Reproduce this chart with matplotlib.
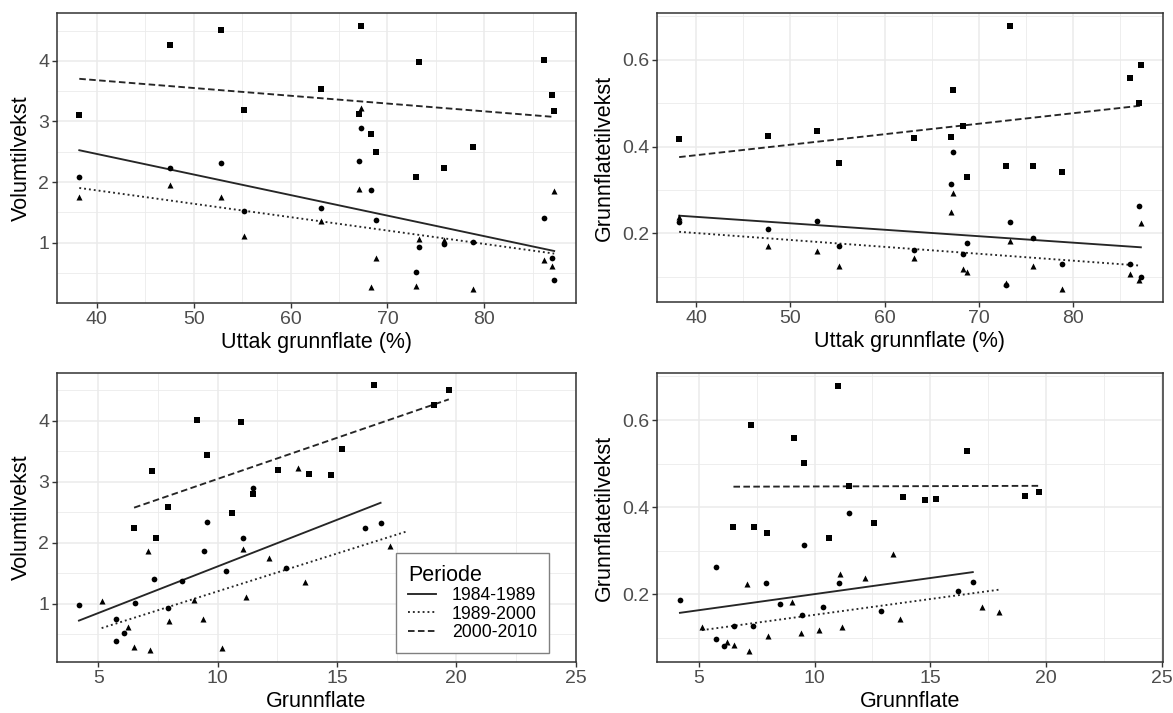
import numpy as np
import matplotlib.pyplot as plt
from matplotlib.lines import Line2D

plt.rcParams['font.family'] = ['Liberation Sans', 'DejaVu Sans']

# one value per bestand, same order in every list
uttak = [38.2, 47.6, 52.8, 55.2, 63.1, 67.1, 67.3, 68.3, 68.8, 72.9, 73.3, 75.8, 78.8, 86.1, 87.0, 87.2]

# 1984-1989
grunnflate_8489 = [11.05, 16.18, 16.83, 10.35, 12.86, 9.54, 11.47, 9.44, 8.50, 6.08, 7.91, 4.19, 6.52, 7.33, 5.74, 5.75]
volum_8489 = [2.08, 2.24, 2.32, 1.53, 1.58, 2.34, 2.89, 1.87, 1.37, 0.52, 0.92, 0.97, 1.01, 1.40, 0.75, 0.38]
gftilvekst_8489 = [0.226, 0.209, 0.228, 0.171, 0.161, 0.314, 0.387, 0.152, 0.177, 0.081, 0.226, 0.188, 0.128, 0.128, 0.262, 0.098]

# 1989-2000
grunnflate_8900 = [12.16, 17.22, 17.97, 11.20, 13.67, 11.08, 13.38, 10.19, 9.40, 6.51, 9.02, 5.14, 7.17, 7.98, 6.23, 7.09]
volum_8900 = [1.75, 1.95, 1.76, 1.11, 1.35, 1.89, 3.23, 0.27, 0.74, 0.29, 1.06, 1.04, 0.24, 0.71, 0.62, 1.86]
gftilvekst_8900 = [0.238, 0.171, 0.160, 0.125, 0.144, 0.248, 0.292, 0.118, 0.111, 0.085, 0.183, 0.125, 0.071, 0.105, 0.092, 0.223]

# 2000-2010
grunnflate_0010 = [14.77, 19.09, 19.69, 12.55, 15.23, 13.81, 16.57, 11.47, 10.61, 7.40, 11.00, 6.50, 7.93, 9.13, 9.54, 7.25]
volum_0010 = [3.11, 4.26, 4.51, 3.19, 3.54, 3.12, 4.58, 2.80, 2.49, 2.08, 3.98, 2.24, 2.58, 4.02, 3.44, 3.18]
gftilvekst_0010 = [0.417, 0.425, 0.435, 0.363, 0.420, 0.423, 0.530, 0.448, 0.329, 0.354, 0.679, 0.355, 0.341, 0.559, 0.501, 0.589]

perioder = ['1984-1989', '1989-2000', '2000-2010']
grunnflate = [grunnflate_8489, grunnflate_8900, grunnflate_0010]
volum = [volum_8489, volum_8900, volum_0010]
gftilvekst = [gftilvekst_8489, gftilvekst_8900, gftilvekst_0010]

markers = ['o', '^', 's']
msizes = [17, 19, 15]
dashes = [(None, None), (1.0, 1.6), (3.5, 1.8)]
line_col = '#262626'

W, H = 1173, 713
fig = plt.figure(figsize=(W / 100, H / 100), dpi=100)
fig.patch.set_facecolor('white')


def add_ax(x0, y0, x1, y1):
    return fig.add_axes([x0 / W, 1 - y1 / H, (x1 - x0) / W, (y1 - y0) / H])


def style(ax, xlim, ylim, xt, xm, yt, ym, ytl, xlabel, ylabel):
    ax.set_xlim(xlim)
    ax.set_ylim(ylim)
    ax.set_xticks(xt)
    ax.set_xticks(xm, minor=True)
    ax.set_yticks(yt)
    ax.set_yticklabels(ytl)
    ax.set_yticks(ym, minor=True)
    ax.grid(which='major', color='#ebebeb', lw=1.1)
    ax.grid(which='minor', color='#ebebeb', lw=0.6)
    ax.set_axisbelow(True)
    for s in ax.spines.values():
        s.set_color('#333333')
        s.set_linewidth(1.1)
    ax.tick_params(which='major', length=3.5, width=1.0, color='#333333',
                   labelcolor='#4d4d4d', labelsize=14, pad=2)
    ax.tick_params(which='minor', length=0)
    ax.set_xlabel(xlabel, fontsize=15.5, labelpad=3)
    ax.set_ylabel(ylabel, fontsize=15.5, labelpad=5)


def draw(ax, xs_list, ys_list):
    for xs, ys, m, ms, d in zip(xs_list, ys_list, markers, msizes, dashes):
        xs = np.asarray(xs)
        ys = np.asarray(ys)
        ax.scatter(xs, ys, marker=m, s=ms, c='black', linewidths=0, zorder=3)
        # lineaer regresjon per periode
        k, b = np.polyfit(xs, ys, 1)
        xl = np.array([xs.min(), xs.max()])
        ln, = ax.plot(xl, k * xl + b, color=line_col, lw=1.35, zorder=2)
        if d[0] is not None:
            ln.set_dashes(d)


x_top = [uttak, uttak, uttak]

ax1 = add_ax(57, 13, 576, 303)
draw(ax1, x_top, volum)
style(ax1, (35.9, 89.45), (0.004, 4.79), [40, 50, 60, 70, 80], [45, 55, 65, 75, 85],
      [1, 2, 3, 4], [0.5, 1.5, 2.5, 3.5, 4.5], ['1', '2', '3', '4'],
      'Uttak grunnflate (%)', 'Volumtilvekst')

ax2 = add_ax(657, 13, 1163, 302)
draw(ax2, x_top, gftilvekst)
style(ax2, (35.85, 89.55), (0.0414, 0.708), [40, 50, 60, 70, 80], [45, 55, 65, 75, 85],
      [0.2, 0.4, 0.6], [0.1, 0.3, 0.5, 0.7], ['0.2', '0.4', '0.6'],
      'Uttak grunnflate (%)', 'Grunnflatetilvekst')

ax3 = add_ax(57, 373, 576, 662)
draw(ax3, grunnflate, volum)
style(ax3, (3.27, 25.02), (0.04, 4.785), [5, 10, 15, 20, 25], [7.5, 12.5, 17.5, 22.5],
      [1, 2, 3, 4], [0.5, 1.5, 2.5, 3.5, 4.5], ['1', '2', '3', '4'],
      'Grunnflate', 'Volumtilvekst')

ax4 = add_ax(657, 373, 1163, 662)
draw(ax4, grunnflate, gftilvekst)
style(ax4, (3.2, 25.04), (0.045, 0.708), [5, 10, 15, 20, 25], [7.5, 12.5, 17.5, 22.5],
      [0.2, 0.4, 0.6], [0.1, 0.3, 0.5, 0.7], ['0.2', '0.4', '0.6'],
      'Grunnflate', 'Grunnflatetilvekst')

handles = []
for d in dashes:
    h = Line2D([], [], color=line_col, lw=1.35)
    if d[0] is not None:
        h.set_dashes(d)
    handles.append(h)

leg = ax3.legend(handles, perioder, title='Periode', loc='lower left',
                 bbox_to_anchor=(0.653, 0.031), borderaxespad=0, frameon=True,
                 fancybox=False, edgecolor='#808080', framealpha=1,
                 fontsize=12.7, title_fontsize=15.5, handlelength=1.6,
                 handletextpad=0.9, labelspacing=0.08, borderpad=0.68,
                 alignment='left')
leg.get_frame().set_linewidth(1.0)
leg.set_zorder(10)

fig.savefig('out.png', dpi=100)
